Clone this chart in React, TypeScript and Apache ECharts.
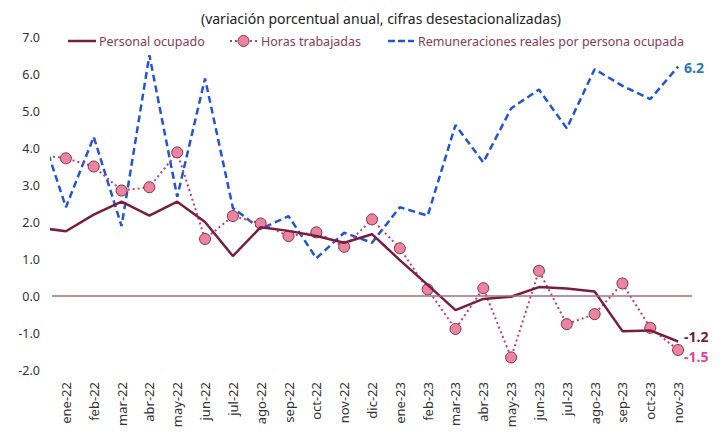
import React, { useEffect, useRef } from "react";
import * as echarts from "echarts";

// first entry (dic-21) lies just outside the visible range and is clipped
const hiddenStart = "dic-21";
const categories = [
  "ene-22", "feb-22", "mar-22", "abr-22", "may-22", "jun-22", "jul-22", "ago-22",
  "sep-22", "oct-22", "nov-22", "dic-22", "ene-23", "feb-23", "mar-23", "abr-23",
  "may-23", "jun-23", "jul-23", "ago-23", "sep-23", "oct-23", "nov-23",
];
const personalOcupado = [
  1.85, 1.75, 2.2, 2.55, 2.17, 2.55, 2.0, 1.08, 1.86, 1.76, 1.62, 1.44, 1.67,
  0.97, 0.3, -0.38, -0.08, -0.02, 0.24, 0.2, 0.12, -0.95, -0.93, -1.23,
];
const horasTrabajadas = [
  3.82, 3.72, 3.5, 2.85, 2.94, 3.88, 1.54, 2.16, 1.96, 1.62, 1.72, 1.33, 2.07,
  1.29, 0.18, -0.89, 0.21, -1.66, 0.68, -0.76, -0.49, 0.34, -0.86, -1.46,
];
const remuneraciones = [
  4.68, 2.4, 4.3, 1.89, 6.51, 2.68, 5.88, 2.38, 1.81, 2.16, 1.02, 1.71, 1.44,
  2.4, 2.17, 4.62, 3.61, 5.07, 5.58, 4.53, 6.13, 5.68, 5.32, 6.2,
];
const legendNames = [
  "Personal ocupado",
  "Horas trabajadas",
  "Remuneraciones reales por persona ocupada",
];
const yTicks = [-2, -1, 0, 1, 2, 3, 4, 5, 6, 7];

const FONT = "'Noto Sans', 'Open Sans', sans-serif";
const C_PERS = "#7A1E40";
const C_HORAS = "#C63D6A";
const C_HORAS_FILL = "#E8869F";
const C_HORAS_BORDER = "#8B2A48";
const C_REM = "#2155D6";
const C_LEG_TEXT = "#8B3A55";

function toPoints(vals: number[]) {
  return vals.map((v, i) => [i - 1, v]); // index 0 is hiddenStart
}

function endLabel(color: string, offset: number[]) {
  return {
    show: true,
    offset,
    distance: 6,
    formatter: (p: any) => Number(p.value[1]).toFixed(1),
    fontFamily: FONT,
    fontSize: 14,
    fontWeight: "bold",
    color,
  };
}

export default function App() {
  const ref = useRef<HTMLDivElement>(null);
  useEffect(() => {
    document.body.style.margin = "0";
    if (!ref.current) return;
    const chart = echarts.init(ref.current, undefined, { renderer: "svg" });
    const n = categories.length;
    void hiddenStart;
    const legY = 41;
    const legText = (x: number, t: string) => ({
      type: "text",
      x,
      y: legY,
      style: {
        text: t,
        fontFamily: FONT,
        fontSize: 12.5,
        fill: C_LEG_TEXT,
        verticalAlign: "middle",
      },
    });
    chart.setOption({
      animation: false,
      title: {
        text: "(variación porcentual anual, cifras desestacionalizadas)",
        left: 376,
        textAlign: "center",
        top: 6,
        textStyle: { fontFamily: FONT, fontSize: 14, fontWeight: "normal", color: "#222" },
      },
      graphic: [
        {
          type: "line",
          shape: { x1: 68, y1: legY, x2: 96, y2: legY },
          style: { stroke: C_PERS, lineWidth: 2.5 },
        },
        legText(99, legendNames[0]),
        {
          type: "line",
          shape: { x1: 230, y1: legY, x2: 257, y2: legY },
          style: { stroke: C_HORAS, lineWidth: 2, lineDash: [2, 3] },
        },
        {
          type: "circle",
          shape: { cx: 243.5, cy: legY, r: 5.5 },
          style: { fill: C_HORAS_FILL, stroke: C_HORAS_BORDER, lineWidth: 1 },
        },
        legText(261, legendNames[1]),
        {
          type: "line",
          shape: { x1: 388, y1: legY, x2: 414, y2: legY },
          style: { stroke: C_REM, lineWidth: 2.5, lineDash: [7, 3] },
        },
        legText(418, legendNames[2]),
      ],
      grid: { left: 52, right: 31, top: 37, bottom: 64 },
      xAxis: [
        {
          type: "category",
          data: categories,
          boundaryGap: true,
          axisLine: { show: false },
          axisTick: { show: false },
          axisLabel: {
            rotate: 90,
            interval: 0,
            margin: 12,
            fontFamily: FONT,
            fontSize: 13,
            color: "#333",
          },
        },
        {
          type: "value",
          min: -0.5,
          max: n - 0.5,
          show: false,
          position: "bottom",
        },
      ],
      yAxis: {
        type: "value",
        min: yTicks[0],
        max: yTicks[yTicks.length - 1],
        interval: 1,
        splitLine: { show: false },
        axisLine: { show: false },
        axisTick: { show: false },
        axisLabel: {
          margin: 12,
          fontFamily: FONT,
          fontSize: 12.5,
          color: "#333",
          formatter: (v: number) => v.toFixed(1),
        },
      },
      series: [
        {
          name: legendNames[0],
          type: "line",
          xAxisIndex: 1,
          clip: true,
          symbol: "none",
          color: C_PERS,
          lineStyle: { color: C_PERS, width: 2.5 },
          data: toPoints(personalOcupado),
          endLabel: endLabel("#6E1E3C", [0, -5]),
          markLine: {
            silent: true,
            symbol: "none",
            label: { show: false },
            lineStyle: { color: "#A0707A", width: 1.5, type: "solid" },
            data: [{ yAxis: 0 }],
          },
          z: 3,
        },
        {
          name: legendNames[1],
          type: "line",
          xAxisIndex: 1,
          clip: true,
          symbol: "circle",
          symbolSize: 11,
          showAllSymbol: true,
          color: C_HORAS_FILL,
          itemStyle: { color: C_HORAS_FILL, borderColor: C_HORAS_BORDER, borderWidth: 1 },
          lineStyle: { color: C_HORAS, width: 2, type: [2, 3] },
          data: toPoints(horasTrabajadas),
          endLabel: endLabel("#E8409A", [0, 6]),
          z: 2,
        },
        {
          name: legendNames[2],
          type: "line",
          xAxisIndex: 1,
          clip: true,
          symbol: "none",
          color: C_REM,
          lineStyle: { color: C_REM, width: 2.5, type: [7, 4] },
          data: toPoints(remuneraciones),
          endLabel: endLabel("#1F7AC8", [0, 1]),
          z: 1,
        },
      ],
    });
    return () => chart.dispose();
  }, []);
  return <div ref={ref} style={{ width: 723, height: 434 }} />;
}
